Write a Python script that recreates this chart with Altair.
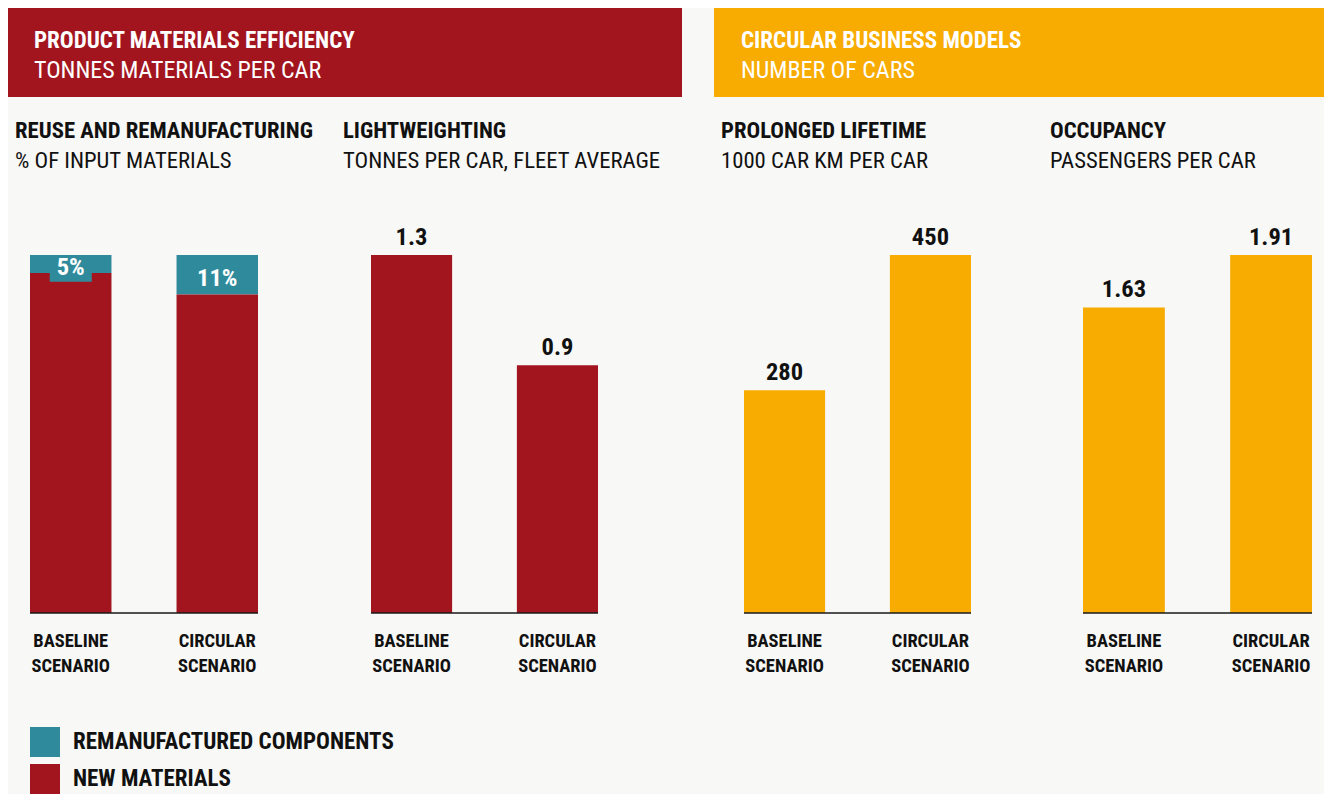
import altair as alt
import pandas as pd

FONT = "Roboto Condensed, Liberation Sans Narrow, DejaVu Sans Condensed, sans-serif"
RED = "#a2151f"
TEAL = "#2f8b9b"
ORANGE = "#f8ab00"
BG = "#f8f8f6"
INK = "#111111"

# ---------------- data ----------------
scenarios = ["BASELINE\nSCENARIO", "CIRCULAR\nSCENARIO"]
components = ["REMANUFACTURED COMPONENTS", "NEW MATERIALS"]
remanufactured_pct = [5, 11]
lightweighting_t = [1.3, 0.9]
lifetime_km = [280, 450]
occupancy = [1.63, 1.91]

banner_titles = ["PRODUCT MATERIALS EFFICIENCY", "CIRCULAR BUSINESS MODELS"]
banner_units = ["TONNES MATERIALS PER CAR", "NUMBER OF CARS"]
panel_titles = ["REUSE AND REMANUFACTURING", "LIGHTWEIGHTING", "PROLONGED LIFETIME", "OCCUPANCY"]
panel_units = ["% OF INPUT MATERIALS", "TONNES PER CAR, FLEET AVERAGE",
               "1000 CAR KM PER CAR", "PASSENGERS PER CAR"]

# ---------------- layout (pixels / style) ----------------
W, H = 1316, 786
BAR_RANGES = [(22, 250), (363, 590), (736, 963), (1075, 1304)]
Y_RANGE = [605, 247]
PANEL_TEXT_X = [7, 335, 713, 1042]
BANNERS = [(0, 674, RED, 26), (706, W, ORANGE, 733)]
LABEL_BOX_DEPTH = 7.5  # teal label box depth below the bar top, in % units

one = pd.DataFrame({"k": [0]})


def xs(i):
    return alt.Scale(type="band", domain=scenarios, range=list(BAR_RANGES[i]),
                     paddingInner=0.444, paddingOuter=0)


def ys(maxv):
    return alt.Scale(domain=[0, maxv], range=Y_RANGE, nice=False, zero=True)


def txt(text, x, y, size, weight="normal", color=INK, align="left"):
    return alt.Chart(one).mark_text(
        text=text, font=FONT, fontSize=size, fontWeight=weight, color=color,
        align=align, baseline="alphabetic"
    ).encode(x=alt.value(x), y=alt.value(y))


layers = []

# banners
for i, (x0, x1, col, tx) in enumerate(BANNERS):
    layers.append(alt.Chart(one).mark_rect(color=col).encode(
        x=alt.value(x0), x2=alt.value(x1), y=alt.value(-3), y2=alt.value(89)))
    layers.append(txt(banner_titles[i], tx, 40, 23, "bold", "white"))
    layers.append(txt(banner_units[i], tx, 70, 24, "normal", "white"))

# panel titles
for i in range(4):
    layers.append(txt(panel_titles[i], PANEL_TEXT_X[i], 130, 22.7, "bold"))
    layers.append(txt(panel_units[i], PANEL_TEXT_X[i], 160, 22.7, "normal"))


def baseline_rule(i, maxv):
    return alt.Chart(one).mark_rule(color="#1a1a1a", strokeWidth=1.5).encode(
        x=alt.value(BAR_RANGES[i][0]), x2=alt.value(BAR_RANGES[i][1]),
        y=alt.Y(datum=0, scale=ys(maxv), axis=None))


def xlabels(i):
    d = pd.DataFrame({"scenario": scenarios})
    return alt.Chart(d).mark_text(
        font=FONT, fontSize=18.5, fontWeight="bold", color=INK, lineBreak="\n",
        lineHeight=24.5, baseline="alphabetic", align="center"
    ).encode(x=alt.X("scenario:N", scale=xs(i), axis=None),
             y=alt.value(639), text="scenario:N")


# panel 1: stacked
rows = []
for s, p in zip(scenarios, remanufactured_pct):
    rows.append({"scenario": s, "component": components[0], "share": p, "ord": 2})
    rows.append({"scenario": s, "component": components[1], "share": 100 - p, "ord": 1})
df1 = pd.DataFrame(rows)
lab1 = pd.DataFrame({"scenario": scenarios, "pct": remanufactured_pct})
lab1["total"] = 100
lab1["box_lo"] = 100 - LABEL_BOX_DEPTH
lab1["mid"] = 100 - lab1["pct"] / 2
lab1["label"] = [f"{p}%" for p in remanufactured_pct]

layers.append(alt.Chart(df1).mark_bar().encode(
    x=alt.X("scenario:N", scale=xs(0), axis=None),
    y=alt.Y("share:Q", stack="zero", scale=ys(100), axis=None),
    color=alt.Color("component:N", scale=alt.Scale(domain=components, range=[TEAL, RED]),
                    legend=alt.Legend(orient="none", legendX=22, legendY=719,
                                      direction="vertical", title=None,
                                      symbolType="square", symbolSize=900,
                                      symbolStrokeWidth=0, symbolOpacity=1,
                                      labelFont=FONT, labelFontSize=23,
                                      labelFontWeight="bold", labelColor=INK,
                                      labelOffset=13, rowPadding=7, labelLimit=0,
                                      padding=0)),
    order=alt.Order("ord:Q")))
layers.append(alt.Chart(lab1).mark_bar(color=TEAL, size=42).encode(
    x=alt.X("scenario:N", scale=xs(0), axis=None),
    y=alt.Y("total:Q", scale=ys(100), axis=None),
    y2="box_lo:Q"))
layers.append(alt.Chart(lab1).mark_text(
    font=FONT, fontSize=24.5, fontWeight="bold", color="white",
    baseline="alphabetic", dy=11).encode(
    x=alt.X("scenario:N", scale=xs(0), axis=None),
    y=alt.Y("mid:Q", scale=ys(100), axis=None),
    text="label:N"))
layers.append(baseline_rule(0, 100))
layers.append(xlabels(0))

# panels 2-4
for i, (vals, col, maxv) in enumerate([(lightweighting_t, RED, 1.3),
                                        (lifetime_km, ORANGE, 450),
                                        (occupancy, ORANGE, 1.91)], start=1):
    d = pd.DataFrame({"scenario": scenarios, "value": vals,
                      "label": [str(v) for v in vals]})
    layers.append(alt.Chart(d).mark_bar(color=col).encode(
        x=alt.X("scenario:N", scale=xs(i), axis=None),
        y=alt.Y("value:Q", scale=ys(maxv), axis=None)))
    layers.append(alt.Chart(d).mark_text(
        font=FONT, fontSize=24.5, fontWeight="bold", color=INK,
        baseline="alphabetic", dy=-10).encode(
        x=alt.X("scenario:N", scale=xs(i), axis=None),
        y=alt.Y("value:Q", scale=ys(maxv), axis=None),
        text="label:N"))
    layers.append(baseline_rule(i, maxv))
    layers.append(xlabels(i))

chart = alt.layer(*layers).resolve_scale(
    x="independent", y="independent", color="independent"
).properties(
    width=W, height=H, padding=0, background=BG,
    autosize=alt.AutoSizeParams(type="none")
).configure_view(stroke=None)

chart.save("out.html", embed_options={"renderer": "svg", "actions": False})
